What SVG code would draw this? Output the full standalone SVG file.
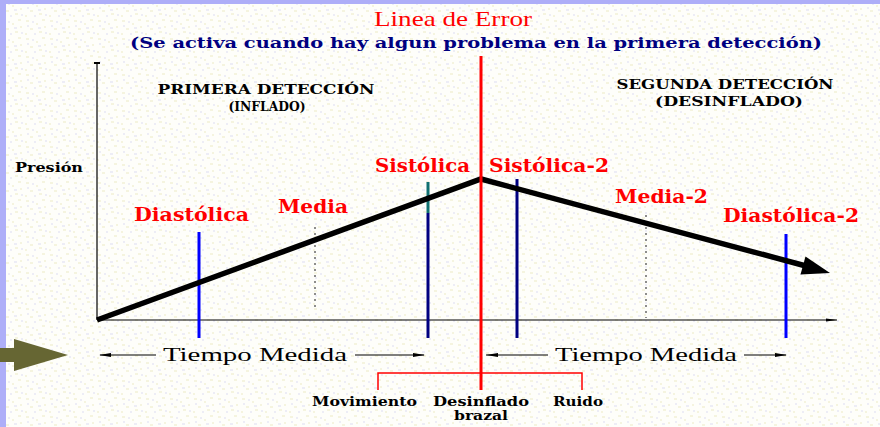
<svg xmlns="http://www.w3.org/2000/svg" width="880" height="427" viewBox="0 0 880 427">
<style>
.lbl{font-family:"DejaVu Serif","Liberation Serif",serif;font-weight:bold;fill:#ff0000;font-size:18px}
.hdr{font-family:"DejaVu Serif","Liberation Serif",serif;font-weight:bold;fill:#000;font-size:13px}
.tm{font-family:"Liberation Serif",serif;fill:#000;font-size:19px}
.sm{font-family:"DejaVu Serif","Liberation Serif",serif;font-weight:bold;fill:#000;font-size:13px}
.blue{stroke:#0000ff;stroke-width:3}
.navy{stroke:#000080;stroke-width:3}
.dot{stroke:#444;stroke-width:1.2;stroke-dasharray:2 4}
.thin{stroke:#000;stroke-width:1.2;fill:none}
.red{stroke:#ff0000;fill:none}
</style>
<defs>
<pattern id="tex" width="24" height="18" patternUnits="userSpaceOnUse">
<rect width="24" height="18" fill="#fefefa"/>
<path d="M2 3h3M12 6h2M18 2h3M6 11h3M15 14h3M20 9h2M1 16h2" stroke="#ecebc4" stroke-width="1"/>
<path d="M8 4h2M3 8h2M14 10h3M21 15h2M10 16h2" stroke="#dcdcf2" stroke-width="1"/>
</pattern>
</defs>
<rect width="880" height="427" fill="url(#tex)"/>
<rect x="0" y="0" width="880" height="4" fill="#aeaef8"/>
<rect x="0" y="0" width="6" height="427" fill="#aeaef8"/>

<g id="title">
<text x="453" y="26" text-anchor="middle" font-family="Liberation Serif,serif" font-size="21" fill="#ff0000" textLength="158" lengthAdjust="spacingAndGlyphs">Linea de Error</text>
<text x="476" y="48" text-anchor="middle" font-family="DejaVu Serif,Liberation Serif,serif" font-weight="bold" font-size="15" fill="#000080" textLength="692" lengthAdjust="spacingAndGlyphs">(Se activa cuando hay algun problema en la primera detección)</text>
</g>

<g id="headers">
<text class="hdr" x="266" y="94" text-anchor="middle" textLength="217" lengthAdjust="spacingAndGlyphs">PRIMERA DETECCIÓN</text>
<text class="hdr" x="267" y="111" text-anchor="middle" textLength="77" lengthAdjust="spacingAndGlyphs">(INFLADO)</text>
<text class="hdr" x="725" y="89" text-anchor="middle" textLength="217" lengthAdjust="spacingAndGlyphs">SEGUNDA DETECCIÓN</text>
<text class="hdr" x="729" y="106" text-anchor="middle" textLength="148" lengthAdjust="spacingAndGlyphs">(DESINFLADO)</text>
<text class="hdr" x="15" y="172" textLength="68" lengthAdjust="spacingAndGlyphs">Presión</text>
</g>

<g id="axes">
<line class="thin" x1="97" y1="63" x2="97" y2="320"/>
<path d="M94 63h6" stroke="#000" stroke-width="2"/>
<line class="thin" x1="97" y1="320" x2="837" y2="320"/>
<path d="M826 318.5L837 320L826 321.5z" fill="#000"/>
</g>

<g id="measure-lines">
<line class="blue" x1="199" y1="232" x2="199" y2="338"/>
<line x1="428" y1="182" x2="428" y2="213" stroke="#107070" stroke-width="3"/>
<line class="navy" x1="428" y1="213" x2="428" y2="338"/>
<line class="navy" x1="517" y1="179" x2="517" y2="338"/>
<line class="blue" x1="786" y1="234" x2="786" y2="338"/>
<line class="dot" x1="315" y1="227" x2="315" y2="310"/>
<line class="dot" x1="646" y1="215" x2="646" y2="318"/>
</g>

<g id="curve">
<polyline points="97,320 481,179 806,266" fill="none" stroke="#000" stroke-width="5.5" stroke-linejoin="miter"/>
<polygon points="830,273 805.5,256.5 800.5,274.5" fill="#000"/>
</g>

<g id="error-line">
<line class="red" x1="481" y1="56" x2="481" y2="390" stroke-width="3"/>
<path class="red" d="M378 390V373H582V390" stroke-width="1.5"/>
</g>

<g id="labels">
<text class="lbl" x="134" y="221" textLength="115" lengthAdjust="spacingAndGlyphs">Diastólica</text>
<text class="lbl" x="278" y="213" textLength="70" lengthAdjust="spacingAndGlyphs">Media</text>
<text class="lbl" x="375" y="172" textLength="95" lengthAdjust="spacingAndGlyphs">Sistólica</text>
<text class="lbl" x="489" y="172" textLength="120" lengthAdjust="spacingAndGlyphs">Sistólica-2</text>
<text class="lbl" x="615" y="203" textLength="93" lengthAdjust="spacingAndGlyphs">Media-2</text>
<text class="lbl" x="723" y="222" textLength="136" lengthAdjust="spacingAndGlyphs">Diastólica-2</text>
</g>

<g id="tiempo-left">
<text class="tm" x="163" y="361" textLength="184" lengthAdjust="spacingAndGlyphs">Tiempo Medida</text>
<line class="thin" x1="100" y1="355" x2="156" y2="355"/>
<path d="M99 355L111 353V357z" fill="#000"/>
<line class="thin" x1="355" y1="355" x2="424" y2="355"/>
<path d="M425 355L413 353V357z" fill="#000"/>
</g>

<g id="tiempo-right">
<text class="tm" x="555" y="361" textLength="182" lengthAdjust="spacingAndGlyphs">Tiempo Medida</text>
<line class="thin" x1="486" y1="355" x2="548" y2="355"/>
<path d="M486 355L498 353V357z" fill="#000"/>
<line class="thin" x1="744" y1="355" x2="786" y2="355"/>
<path d="M787 355L775 353V357z" fill="#000"/>
</g>

<g id="causes">
<text class="sm" x="312" y="406" textLength="105" lengthAdjust="spacingAndGlyphs">Movimiento</text>
<text class="sm" x="433" y="406" textLength="96" lengthAdjust="spacingAndGlyphs">Desinflado</text>
<text class="sm" x="481" y="420" text-anchor="middle" textLength="54" lengthAdjust="spacingAndGlyphs">brazal</text>
<text class="sm" x="553" y="406" textLength="50" lengthAdjust="spacingAndGlyphs">Ruido</text>
</g>

<g id="pointer">
<path d="M0 348H14V339L68 355L14 371V362H0z" fill="#666633"/>
</g>
</svg>
